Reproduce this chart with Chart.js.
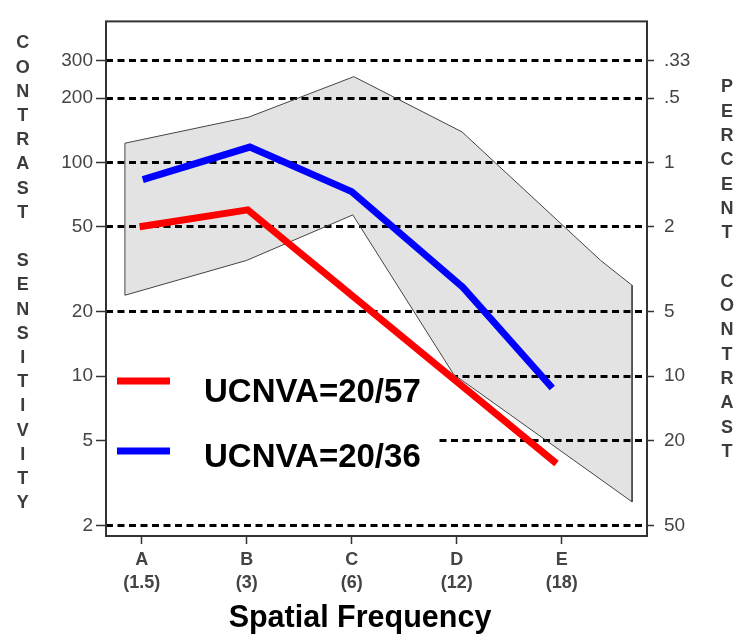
<!DOCTYPE html>
<html><head><meta charset="utf-8">
<script src="https://cdn.jsdelivr.net/npm/chart.js@4"></script>
<style>html,body{margin:0;padding:0;background:#fff}canvas{display:block}</style>
</head><body>
<canvas id="c" width="750" height="642"></canvas>
<script>
// ---- data ----
const categories = ['A','B','C','D','E'];
const freqLabels = ['(1.5)','(3)','(6)','(12)','(18)'];
const categoryX = [1,2,3,4,5];
const csTicks = [2,5,10,20,50,100,200,300];
const pctLabels = ['50','20','10','5','2','1','.5','.33'];
const seriesNames = ['UCNVA=20/57','UCNVA=20/36'];
const redX = [0.98, 2.01, 4.95];
const redY = [50, 60, 3.9];
const blueX = [1.01, 2.03, 3.0, 4.06, 4.91];
const blueY = [83, 118, 73, 26, 8.8];
const normX = [0.84, 2.02, 3.02, 4.05, 5.37, 5.67, 5.67, 3.97, 3.01, 2.0, 0.84, 0.84];
const normY = [123, 163, 252, 139, 34.8, 26.6, 2.58, 10.2, 56.8, 34.8, 23.9, 123];
const leftTitle = 'CONTRAST SENSITIVITY';
const rightTitle = 'PERCENT CONTRAST';
const xTitle = 'Spatial Frequency';

const FONT = '"Liberation Sans", Arial, Helvetica, sans-serif';
Chart.defaults.font.family = FONT;
const toPts = (xs, ys) => xs.map((x, i) => ({x: x, y: ys[i]}));

const decor = {
  id: 'decor',
  beforeDatasetsDraw(chart) {
    const ctx = chart.ctx;
    ctx.save();
    ctx.fillStyle = '#fff';
    ctx.fillRect(107, 360, 348, 52);
    ctx.fillRect(107, 424, 330, 52);
    ctx.restore();
  },
  afterDatasetsDraw(chart) {
    const ctx = chart.ctx, a = chart.chartArea;
    ctx.save();
    ctx.strokeStyle = '#333';
    ctx.lineWidth = 2;
    ctx.strokeRect(a.left, a.top, a.right - a.left, a.bottom - a.top);
    // legend
    const items = [
      {color: chart.data.datasets[0].borderColor, label: chart.data.datasets[0].label, ly: 381, ty: 402},
      {color: chart.data.datasets[1].borderColor, label: chart.data.datasets[1].label, ly: 451, ty: 467}
    ];
    items.forEach(it => {
      ctx.strokeStyle = it.color;
      ctx.lineWidth = 7;
      ctx.lineCap = 'butt';
      ctx.beginPath(); ctx.moveTo(117, it.ly); ctx.lineTo(170, it.ly); ctx.stroke();
      ctx.fillStyle = '#000';
      ctx.font = 'bold 33px ' + FONT;
      ctx.textAlign = 'left';
      ctx.textBaseline = 'alphabetic';
      ctx.fillText(it.label, 204, it.ty);
    });
    // axis title
    ctx.font = 'bold 30.5px ' + FONT;
    ctx.textAlign = 'center';
    ctx.fillText(xTitle, 360, 627);
    // vertical stacked titles
    ctx.fillStyle = '#3c3c3c';
    ctx.font = 'bold 18px ' + FONT;
    ctx.textAlign = 'center';
    ctx.textBaseline = 'middle';
    [...leftTitle].forEach((ch, i) => ctx.fillText(ch, 22.7, 43.5 + i * 24.2));
    [...rightTitle].forEach((ch, i) => ctx.fillText(ch, 727, 87.5 + i * 24.3));
    ctx.restore();
  }
};

new Chart(document.getElementById('c'), {
  type: 'line',
  data: {
    datasets: [
      {label: seriesNames[0], data: toPts(redX, redY), borderColor: '#ff0000', borderWidth: 7,
       pointRadius: 0, fill: false, tension: 0, borderCapStyle: 'butt', borderJoinStyle: 'miter'},
      {label: seriesNames[1], data: toPts(blueX, blueY), borderColor: '#0000ff', borderWidth: 7,
       pointRadius: 0, fill: false, tension: 0, borderCapStyle: 'butt', borderJoinStyle: 'miter'},
      {label: 'norm', data: toPts(normX, normY), borderColor: '#444', borderWidth: 1,
       backgroundColor: 'rgba(0,0,0,0.11)', fill: 'shape', pointRadius: 0, tension: 0}
    ]
  },
  options: {
    responsive: false,
    animation: false,
    events: [],
    layout: {padding: {top: 13, left: 0, right: 0, bottom: 0}},
    plugins: {legend: {display: false}, tooltip: {enabled: false}},
    scales: {
      x: {
        type: 'linear', position: 'bottom', min: 0.66, max: 5.812,
        afterBuildTicks: s => { s.ticks = categoryX.map(v => ({value: v})); },
        afterFit: s => { s.height = 106; },
        grid: {drawOnChartArea: false, drawTicks: true, tickLength: 8, tickColor: '#333', tickWidth: 1.5},
        border: {display: false},
        ticks: {autoSkip: false, maxRotation: 0, padding: 5, color: '#444',
          font: {size: 18, weight: 'bold', lineHeight: 1.25},
          callback: (v, i) => [categories[i], freqLabels[i]]}
      },
      y: {
        type: 'logarithmic', position: 'left', min: 1.786, max: 457, bounds: 'data',
        afterBuildTicks: s => { s.ticks = csTicks.map(v => ({value: v})); },
        afterFit: s => { s.width = 106; },
        grid: {color: '#000', lineWidth: 3, tickLength: 10, tickColor: '#333', tickWidth: 1.5, tickBorderDash: []},
        border: {display: false, dash: [7, 4.5]},
        ticks: {padding: 3, color: '#444', font: {size: 19}, callback: v => String(v)}
      },
      y2: {
        type: 'logarithmic', position: 'right', min: 1.786, max: 457, bounds: 'data',
        afterBuildTicks: s => { s.ticks = csTicks.map(v => ({value: v})); },
        afterFit: s => { s.width = 103; },
        grid: {drawOnChartArea: false, tickLength: 7, tickColor: '#333', tickWidth: 1.5},
        border: {display: false},
        ticks: {padding: 10, color: '#444', font: {size: 19}, callback: (v, i) => pctLabels[i]}
      }
    }
  },
  plugins: [decor]
});
</script>
</body></html>
